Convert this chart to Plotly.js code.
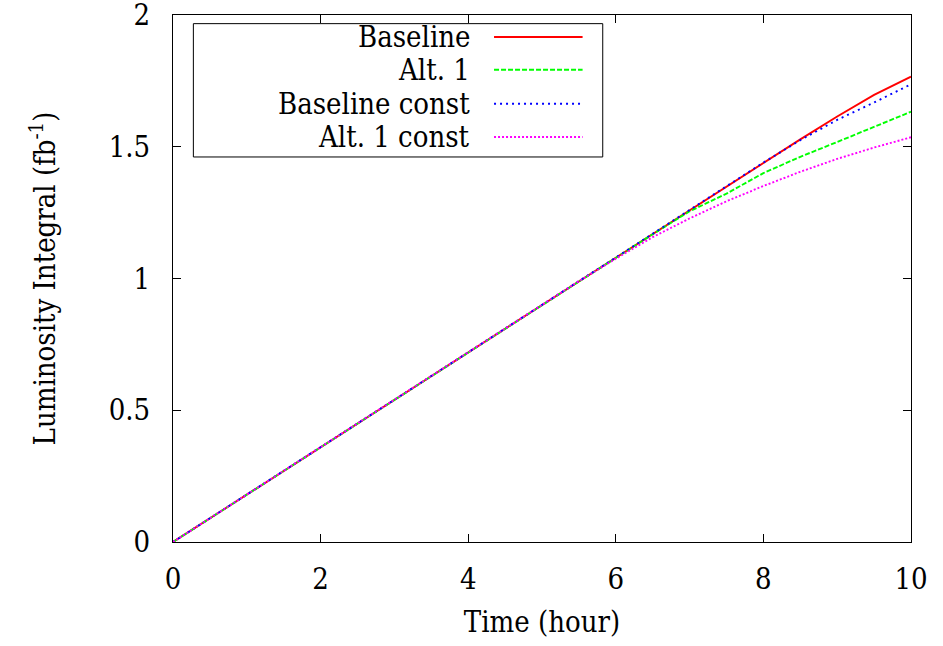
<!DOCTYPE html>
<html>
<head>
<meta charset="utf-8">
<script src="https://cdn.plot.ly/plotly-3.0.1.min.js"></script>
<style>html,body{margin:0;padding:0;background:#fff;}#chart{width:943px;height:646px;}</style>
</head>
<body>
<div id="chart"></div>
<script>
// Data
const timeHours = [0,0.5,1,1.5,2,2.5,3,3.5,4,4.5,5,5.5,6,6.5,7,7.5,8,8.5,9,9.5,10];
const baseline      = [0,0.09,0.18,0.27,0.36,0.45,0.54,0.63,0.72,0.81,0.90,0.99,1.08,1.17,1.26,1.35,1.44,1.528,1.615,1.697,1.766];
const alt1          = [0,0.09,0.18,0.27,0.36,0.45,0.54,0.63,0.72,0.81,0.90,0.99,1.08,1.168,1.255,1.322,1.400,1.462,1.518,1.577,1.633];
const baselineConst = [0,0.09,0.18,0.27,0.36,0.45,0.54,0.63,0.72,0.81,0.90,0.99,1.08,1.17,1.26,1.35,1.44,1.525,1.602,1.668,1.737];
const alt1Const     = [0,0.09,0.18,0.27,0.36,0.45,0.54,0.63,0.72,0.81,0.90,0.99,1.075,1.157,1.228,1.293,1.351,1.405,1.454,1.497,1.536];
const seriesNames = ["Baseline","Alt. 1","Baseline const","Alt. 1 const"];
const xTicks = [0,2,4,6,8,10];
const yTicks = [0,0.5,1,1.5,2];
const yTickLabels = ["0","0.5","1","1.5","2"];

const seriesValues = [baseline, alt1, baselineConst, alt1Const];
const colors = ["#ff0000","#00ff00","#0000ff","#ff00ff"];
const dashes = ["solid","5px,2px","2px,4px","2px,2px"];

const FONT = "DejaVu Serif Condensed";
const FS = 29;

const traces = seriesValues.map((v,i)=>({
  x: timeHours, y: v, type: "scatter", mode: "lines", name: seriesNames[i],
  line: {color: colors[i], width: 1.9, dash: dashes[i]}, showlegend: false
}));

// gnuplot-style legend: text right-aligned, line sample to its right
const shapes = [{type:"rect", xref:"paper", yref:"paper", x0:0.0276, x1:0.5823, y0:0.7306, y1:0.9836,
  line:{color:"#000", width:1}, fillcolor:"rgba(0,0,0,0)"}];
const annotations = [];
const rowY = [0.9583,0.8962,0.8317,0.7685];
seriesNames.forEach((n,i)=>{
  annotations.push({xref:"paper", yref:"paper", x:0.4054, y:rowY[i], xanchor:"right", yanchor:"middle",
    text:n, showarrow:false, font:{family:FONT, size:FS, color:"#000"}});
  shapes.push({type:"line", xref:"paper", yref:"paper", x0:0.4350, x1:0.5550, y0:rowY[i], y1:rowY[i],
    line:{color:colors[i], width:1.9, dash:dashes[i]}});
});

const layout = {
  width: 943, height: 646,
  margin: {l:173, r:32, t:15, b:104},
  paper_bgcolor: "#fff", plot_bgcolor: "#fff",
  font: {family: FONT, size: FS, color: "#000"},
  showlegend: false,
  xaxis: {
    range: [0,10], tickvals: xTicks, ticks: "inside", ticklen: 8, tickcolor: "#000",
    showline: true, linecolor: "#000", linewidth: 1, mirror: "ticks",
    showgrid: false, zeroline: false, ticklabelstandoff: 11, ticklabeloverflow: "allow",
    tickfont: {family: FONT, size: FS},
    title: {text: "Time (hour)", font: {family: FONT, size: FS}, standoff: 16}
  },
  yaxis: {
    range: [0,2], tickvals: yTicks, ticktext: yTickLabels, ticks: "inside", ticklen: 8, tickcolor: "#000",
    showline: true, linecolor: "#000", linewidth: 1, mirror: "ticks",
    showgrid: false, zeroline: false, ticklabelstandoff: 16, ticklabeloverflow: "allow",
    tickfont: {family: FONT, size: FS},
    title: {text: "Luminosity Integral (fb<sup>-1</sup>)", font: {family: FONT, size: FS}, standoff: 44}
  },
  shapes: shapes,
  annotations: annotations
};

Plotly.newPlot("chart", traces, layout, {staticPlot: true, displayModeBar: false});
</script>
</body>
</html>
